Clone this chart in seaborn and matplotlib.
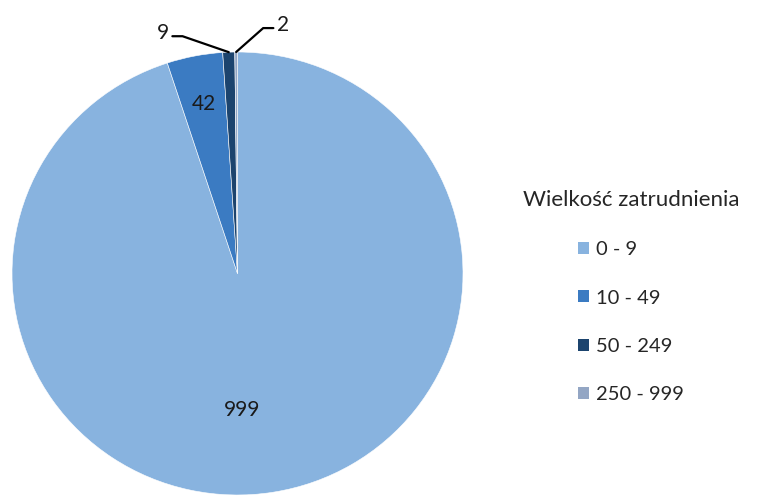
import matplotlib
matplotlib.use("Agg")
import matplotlib.pyplot as plt
import seaborn as sns
import numpy as np
from matplotlib.patches import Patch

sns.set_theme(style="white")
plt.rcParams['font.family'] = ['Lato', 'DejaVu Sans']

# data
categories = ['0 - 9', '10 - 49', '50 - 249', '250 - 999']
counts = [999, 42, 9, 2]
colors = ['#88B3DF', '#3B7BC2', '#1C446E', '#93A6C4']
legend_title = 'Wielkość zatrudnienia'

fig = plt.figure(figsize=(7.58, 4.98), dpi=100)
W, H = 758, 498
# pie area in pixels: x 12..463, y 52..495 (from top)
ax = fig.add_axes([12 / W, 1 - 495 / H, 451 / W, 443 / H])
wedges, _ = ax.pie(counts, colors=colors, startangle=90, counterclock=False,
                   wedgeprops=dict(edgecolor='white', linewidth=0.4))
ax.set_aspect('auto')
ax.set_xlim(-1, 1)
ax.set_ylim(-1, 1)
ax.axis('off')

# inside labels for the two big slices (radius, angle shift in degrees)
for w, v, r, shift in zip(wedges[:2], counts[:2], [0.615, 0.78], [-7, 0]):
    th = np.deg2rad((w.theta1 + w.theta2) / 2 + shift)
    ax.text(r * np.cos(th), r * np.sin(th), str(v), ha='center', va='center',
            fontsize=15, color='#1a1a1a')

# outside labels with leader lines for the thin slices
for w, v, off, ha in zip(wedges[2:], counts[2:], [(-0.205, 0.072), (0.12, 0.108)], ['right', 'left']):
    th = np.deg2rad((w.theta1 + w.theta2) / 2)
    x0, y0 = np.cos(th), np.sin(th)
    xe, ye = x0 + off[0], y0 + off[1]
    sign = -1 if ha == 'right' else 1
    xt = xe + sign * 0.045
    ax.plot([x0, xe, xt], [y0, ye, ye], color='black', lw=1.6, clip_on=False,
            solid_joinstyle='miter')
    ax.text(xt + sign * 0.015, ye + 0.015, str(v), ha=ha, va='center',
            fontsize=15, color='#1a1a1a')

handles = [Patch(facecolor=c, edgecolor='none') for c in colors]
fig.legend(handles, categories, title=legend_title, loc='upper left',
           bbox_to_anchor=(505 / W, 1 - 172 / H), frameon=False,
           fontsize=14.5, title_fontsize=16, handlelength=0.55, handleheight=0.55,
           handletextpad=0.35, labelspacing=1.55)

fig.savefig('out.png', dpi=100)
